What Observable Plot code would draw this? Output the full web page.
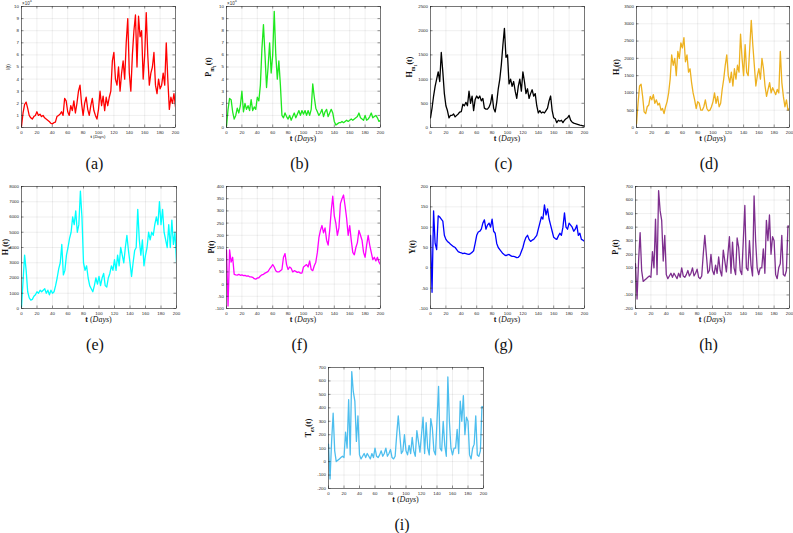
<!DOCTYPE html>
<html><head><meta charset="utf-8">
<script src="https://cdn.jsdelivr.net/npm/d3@7"></script>
<script src="https://cdn.jsdelivr.net/npm/@observablehq/plot@0.6"></script>
<style>
body{margin:0;background:#fff;}
#fig{position:relative;width:793px;height:533px;overflow:hidden;background:#fff;}
.ylab{position:absolute;transform:translate(-50%,-50%) rotate(-90deg);white-space:nowrap;font-family:"Liberation Serif","DejaVu Serif",serif;font-weight:bold;color:#111;line-height:1;}
.xlab{position:absolute;transform:translate(-50%,-50%);white-space:nowrap;font-family:"Liberation Serif","DejaVu Serif",serif;color:#111;line-height:1;}
.xlab i,.xlab b,.ylab i{color:#111;}
.cap{position:absolute;transform:translate(-50%,-50%);font-family:"Liberation Serif","DejaVu Serif",serif;font-size:16px;color:#111;line-height:1;}
.exp{position:absolute;font-family:"Liberation Sans",Arial,sans-serif;font-size:4.5px;color:#333;line-height:1;}
sub{font-size:70%;}
</style></head><body><div id="fig"></div>
<script>
// Day grid (every 2 days)
const days = d3.range(0, 201, 2);
const xTicks = [0, 20, 40, 60, 80, 100, 120, 140, 160, 180, 200];

// (a) I(t), in units of 10^4
const infected = [0.1,1.2,1.9,2.1,1.6,1.0,0.8,0.7,0.9,1.0,
 1.3,1.0,1.1,0.9,1.0,0.8,0.7,0.6,0.5,0.35,
 0.3,0.4,0.45,0.9,1.0,1.1,1.3,1.0,2.4,2.2,
 1.3,1.0,1.8,1.4,2.2,1.2,2.0,3.0,3.5,2.0,
 1.0,2.0,2.5,1.5,1.0,1.8,2.4,1.4,1.0,0.7,
 1.5,3.0,1.8,2.6,1.4,2.5,1.8,2.5,3.0,5.5,
 6.2,4.0,3.5,5.0,3.0,4.5,5.5,4.0,7.0,9.0,
 4.5,3.0,6.0,8.0,9.3,5.0,9.2,7.5,8.0,4.0,
 6.0,9.5,6.0,3.5,4.5,5.0,6.2,3.5,2.8,4.0,
 3.2,3.5,4.5,3.5,7.0,4.0,1.5,2.5,2.0,2.8,
 1.7];

// (b) P_m1(t), in units of 10^4
const pm1 = [0.1,1.5,2.4,2.3,1.3,0.7,1.0,1.6,1.2,1.8,
 3.0,1.3,2.0,1.5,1.8,1.4,2.3,1.4,1.7,1.5,
 2.5,2.2,3.5,6.5,8.5,6.0,3.3,5.0,7.0,4.5,
 6.0,9.6,6.0,4.0,5.5,3.5,1.0,0.8,1.2,0.9,
 0.7,1.0,0.6,0.9,1.2,0.8,1.1,1.4,1.0,1.4,
 1.1,1.4,1.0,1.4,1.0,1.5,3.6,2.5,1.6,1.3,
 1.0,1.2,1.5,0.9,1.3,1.5,0.9,1.2,1.5,1.2,
 0.5,0.2,0.3,0.4,0.4,0.5,0.4,0.5,0.6,0.5,
 0.6,0.7,0.6,0.7,0.8,0.9,1.2,0.8,0.7,0.6,
 1.0,0.6,0.7,0.9,1.2,0.8,0.9,1.0,0.8,0.5,
 0.6];

// (c) H_m1(t)
const hm1 = [200,400,650,850,1000,1150,950,1550,1150,700,
 450,350,200,250,250,280,220,250,280,320,
 330,480,450,520,450,750,500,650,350,580,
 650,600,650,550,600,400,380,380,420,500,
 680,400,320,520,800,1000,1300,1700,2050,1450,
 1500,900,1000,850,950,750,600,850,1000,750,
 1150,950,700,800,600,700,780,650,700,450,
 300,350,300,320,300,350,400,550,650,350,
 200,180,100,150,130,150,100,150,180,200,
 250,150,110,90,80,70,60,50,45,35,
 30];

// (d) H_i(t)
const hi = [100,700,1200,1250,900,450,400,600,650,900,
 800,950,700,800,650,700,500,550,400,600,
 750,1000,1400,2100,1800,2000,1500,2200,2000,2450,
 2300,2600,1900,2100,1600,1700,1300,1000,800,550,
 750,700,500,500,600,800,550,480,500,600,
 750,1000,700,900,600,700,1100,1400,1800,2100,
 1500,1300,1600,1200,1700,1400,1800,1600,2700,2000,
 1500,2400,1600,1500,2300,3100,2400,1800,1200,1500,
 1700,1400,2000,1700,1200,900,1100,1300,1000,1150,
 1050,950,1100,1000,2200,1300,900,600,800,500,
 550];

// (e) H_s(t)
const hs = [100,1800,3500,2500,1100,700,550,600,800,900,
 1100,1000,1200,1100,1200,1300,1000,1200,900,1200,
 1000,1100,1500,2000,2600,3000,4200,2200,2500,3500,
 4000,4600,5000,6000,5500,6400,5000,5500,7700,6000,
 3000,2500,2800,2000,1500,1300,1100,1500,2000,1600,
 2100,1500,2000,2300,1500,1400,2000,2300,2800,2500,
 3200,2500,3500,2800,4000,3500,3000,4000,4800,3800,
 3000,2100,3000,3800,4000,6500,4500,3500,4500,2800,
 3500,4000,5000,4500,5000,4800,5500,6000,5500,7000,
 5500,6500,5000,4500,4000,5500,4000,5800,4200,5000,
 3000];

// (f) P(t)
const pt = [140,-90,140,90,110,40,38,37,40,36,
 38,35,36,33,34,30,30,28,22,20,
 25,26,33,38,40,45,48,52,62,70,
 80,70,55,50,50,55,60,110,125,80,
 60,70,65,50,55,52,48,50,45,45,
 70,75,80,70,95,60,55,75,90,130,
 190,220,240,210,230,180,160,220,300,360,
 280,250,200,230,330,350,365,320,270,200,
 240,180,130,120,150,170,220,200,180,130,
 110,160,200,160,130,100,110,95,110,90,
 80];

// (g) Y(t)
const yt = [80,-60,140,60,45,128,125,120,115,80,
 70,65,62,58,55,52,50,45,40,38,
 37,35,36,35,34,33,35,38,42,60,
 80,88,90,95,110,118,95,105,110,100,
 120,90,85,60,50,45,40,35,32,30,
 32,33,30,28,28,27,25,26,30,40,
 50,65,75,80,70,65,68,70,75,80,
 95,110,125,120,155,130,145,120,105,90,
 75,72,70,78,85,80,100,135,100,95,
 110,105,100,90,95,105,80,85,70,68,
 65];

// (h) and (i): same series
const spikes = [130,-130,150,360,80,0,10,20,30,40,
 30,220,100,460,50,670,520,450,150,340,
 50,20,40,60,30,60,40,20,60,30,
 100,40,30,50,80,40,60,100,40,60,
 90,30,20,40,200,340,200,60,80,200,
 80,50,120,60,180,80,40,230,150,70,
 200,330,60,290,100,50,320,250,80,50,
 300,560,100,80,300,120,40,630,300,100,
 50,100,100,240,60,450,300,490,200,330,
 300,50,20,100,130,340,50,40,80,410,
 400];

const panels = [
  {id:"(a)", values:infected, color:"#ff0000", domain:[0,10], ticks:d3.range(0,11,1), left:21, top:6, w:154, h:121,
   ylab:'I(t)', ylabSans:true, ylabSize:4.6, ylabOff:12, xlabSize:4.2, xlabSans:true, xlabOff:10, exp:'×10<sup>4</sup>'},
  {id:"(b)", values:pm1, color:"#1ee81e", domain:[0,10], ticks:d3.range(0,11,1), left:226, top:6, w:154, h:121,
   ylab:'P<sub>m<sub>1</sub></sub>(t)', ylabOff:15, exp:'×10<sup>4</sup>'},
  {id:"(c)", values:hm1, color:"#000000", domain:[0,2500], ticks:d3.range(0,2501,500), left:430, top:6, w:154, h:121,
   ylab:'H<sub>m<sub>1</sub></sub>(t)', ylabOff:18},
  {id:"(d)", values:hi, color:"#EDB120", domain:[0,3500], ticks:d3.range(0,3501,500), left:636, top:6, w:153, h:121,
   ylab:'H<sub>i</sub>(t)', ylabOff:18},
  {id:"(e)", values:hs, color:"#00ffff", domain:[0,8000], ticks:d3.range(0,8001,1000), left:21, top:186, w:155, h:122,
   ylab:'H<sub>s</sub>(t)', ylabOff:14},
  {id:"(f)", values:pt, color:"#ff00ff", domain:[-100,400], ticks:d3.range(-100,401,50), left:226, top:186, w:154, h:122,
   ylab:'P(t)', ylabOff:14},
  {id:"(g)", values:yt, color:"#0000ff", domain:[-100,200], ticks:d3.range(-100,201,50), left:430, top:186, w:154, h:122,
   ylab:'Y(t)', ylabOff:17},
  {id:"(h)", values:spikes, color:"#7E2F8E", domain:[-200,700], ticks:d3.range(-200,701,100), left:635, top:186, w:154, h:122,
   ylab:'P<sub>r</sub>(t)', ylabOff:18},
  {id:"(i)", values:spikes, color:"#4DBEEE", domain:[-200,700], ticks:d3.range(-200,701,100), left:328, top:367, w:155, h:121,
   ylab:'T<sub><i>ex</i></sub>(t)', ylabOff:18}
];

const fig = document.getElementById("fig");
const mL = 30, mR = 8, mT = 8, mB = 14;

function addDiv(cls, html, x, y, style) {
  const d = document.createElement("div");
  d.className = cls;
  d.innerHTML = html;
  d.style.left = x + "px";
  d.style.top = y + "px";
  if (style) Object.assign(d.style, style);
  fig.appendChild(d);
  return d;
}

for (const p of panels) {
  const data = days.map((t, i) => ({t, v: p.values[i]}));
  const ink = "#262626";
  const chart = Plot.plot({
    width: p.w + mL + mR,
    height: p.h + mT + mB,
    marginLeft: mL, marginRight: mR, marginTop: mT, marginBottom: mB,
    style: {fontFamily: "'Liberation Sans', Arial, sans-serif", fontSize: "4.4px", color: ink, background: "transparent", overflow: "visible"},
    x: {domain: [0, 200]},
    y: {domain: p.domain},
    marks: [
      Plot.gridX(xTicks, {stroke: "#000", strokeOpacity: 0.13, strokeWidth: 0.5}),
      Plot.gridY(p.ticks, {stroke: "#000", strokeOpacity: 0.13, strokeWidth: 0.5}),
      Plot.line(data, {x: "t", y: "v", stroke: p.color, strokeWidth: 1.3, clip: true}),
      Plot.tickX(xTicks, {x: d => d, insetTop: p.h - 2.5, stroke: ink, strokeWidth: 0.5}),
      Plot.tickX(xTicks, {x: d => d, insetBottom: p.h - 2.5, stroke: ink, strokeWidth: 0.5}),
      Plot.tickY(p.ticks, {y: d => d, insetRight: p.w - 2.5, stroke: ink, strokeWidth: 0.5}),
      Plot.tickY(p.ticks, {y: d => d, insetLeft: p.w - 2.5, stroke: ink, strokeWidth: 0.5}),
      Plot.frame({stroke: ink, strokeWidth: 0.6}),
      Plot.axisX(xTicks, {tickSize: 0, tickPadding: 3, label: null, tickFormat: d => String(d)}),
      Plot.axisY(p.ticks, {tickSize: 0, tickPadding: 2.5, label: null, tickFormat: d => String(d)})
    ]
  });
  chart.style.position = "absolute";
  chart.style.left = (p.left - mL) + "px";
  chart.style.top = (p.top - mT) + "px";
  fig.appendChild(chart);

  const cx = p.left + p.w / 2;
  const cy = p.top + p.h / 2;
  // y label
  addDiv("ylab", p.ylab, p.left - p.ylabOff, cy, p.ylabSans
    ? {fontFamily: "'Liberation Sans', Arial, sans-serif", fontWeight: "normal", fontSize: p.ylabSize + "px"}
    : {fontSize: "8px"});
  // x label
  addDiv("xlab", '<b>t</b> (<i>Days</i>)', cx, p.top + p.h + (p.xlabOff || 12), p.xlabSans
    ? {fontFamily: "'Liberation Sans', Arial, sans-serif", fontSize: p.xlabSize + "px"}
    : {fontSize: "8px"});
  // caption
  addDiv("cap", p.id, cx - 3.5, p.top + p.h + 37);
  // exponent
  if (p.exp) addDiv("exp", p.exp, p.left + 1, p.top - 6);
}
</script></body></html>
